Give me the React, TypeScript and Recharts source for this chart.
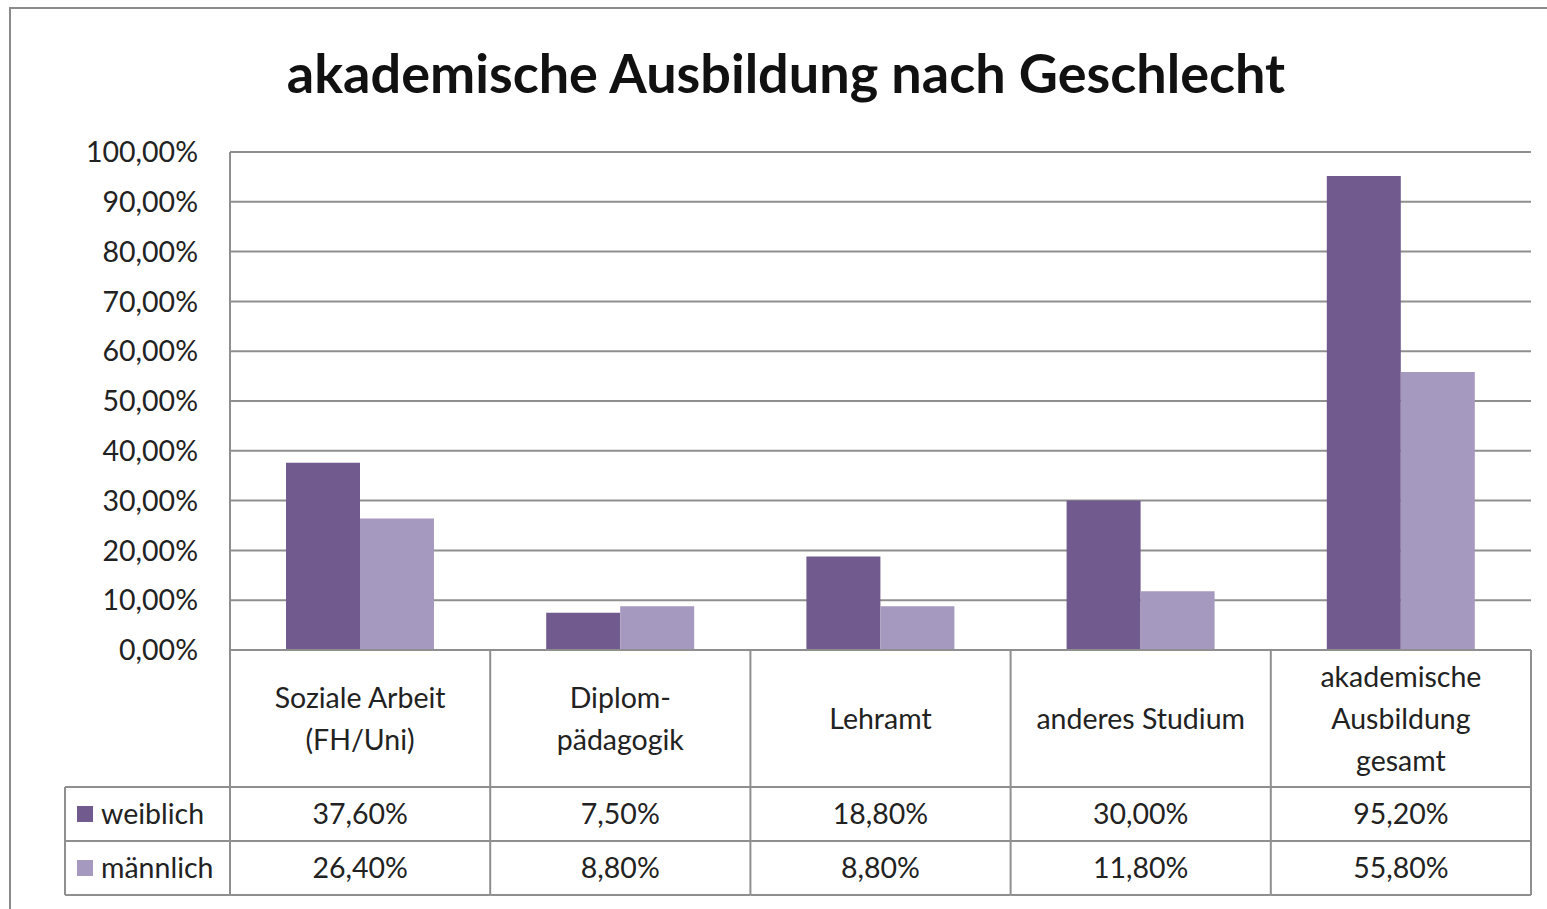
import React from "react";
import { BarChart, Bar, XAxis, YAxis, CartesianGrid } from "recharts";

const title = "akademische Ausbildung nach Geschlecht";
const categories = [
  "Soziale Arbeit\n(FH/Uni)",
  "Diplom-\npädagogik",
  "Lehramt",
  "anderes Studium",
  "akademische\nAusbildung\ngesamt",
];
const weiblich = [37.6, 7.5, 18.8, 30.0, 95.2];
const maennlich = [26.4, 8.8, 8.8, 11.8, 55.8];
const yTicks = [0, 10, 20, 30, 40, 50, 60, 70, 80, 90, 100];
const seriesNames = ["weiblich", "männlich"];

const COLORS = ["#715A8D", "#A699BF"];
const LINE = "#8f8f8f";
const TEXT = "#222";
const FONT = "Lato, 'Open Sans', sans-serif";

const W = 1547;
const H = 909;
const M = { top: 152, right: 16, bottom: 14, left: 0 };
const YAXIS_W = 230;
const XAXIS_H = 245;
const PLOT_W = W - M.left - M.right - YAXIS_W;
const BAND = PLOT_W / categories.length;
const HEADER_H = 137;
const ROW_H = 54;
const LEGEND_W = 165;
const TABLE_FS = 28.5;

const data = categories.map((c, i) => ({
  name: c,
  weiblich: weiblich[i],
  maennlich: maennlich[i],
}));

const fmt = (v: number) => v.toFixed(2).replace(".", ",") + "%";

const TableTick = (props: any) => {
  const { x, y, payload, index } = props;
  const left = x - BAND / 2;
  const right = x + BAND / 2;
  const lines = String(payload.value).split("\n");
  const lh = 42;
  const headerMid = y + HEADER_H / 2;
  const firstY = headerMid - ((lines.length - 1) * lh) / 2 - 1;
  const r1 = y + HEADER_H;
  const r2 = r1 + ROW_H;
  const r3 = r2 + ROW_H;
  const lineProps = { stroke: LINE, strokeWidth: 2 };
  return (
    <g>
      <line x1={right} x2={right} y1={y} y2={r3} {...lineProps} />
      {index === 0 && <line x1={left} x2={left} y1={y} y2={r3} {...lineProps} />}
      <line x1={index === 0 ? left - LEGEND_W : left} x2={right} y1={r1} y2={r1} {...lineProps} />
      <line x1={index === 0 ? left - LEGEND_W : left} x2={right} y1={r2} y2={r2} {...lineProps} />
      <line x1={index === 0 ? left - LEGEND_W : left} x2={right} y1={r3} y2={r3} {...lineProps} />
      {index === 0 && (
        <g>
          <line x1={left - LEGEND_W} x2={left - LEGEND_W} y1={r1} y2={r3} {...lineProps} />
          {seriesNames.map((s, si) => (
            <g key={s}>
              <rect
                x={left - LEGEND_W + 12}
                y={r1 + si * ROW_H + ROW_H / 2 - 8}
                width={16}
                height={16}
                fill={COLORS[si]}
              />
              <text
                x={left - LEGEND_W + 36}
                y={r1 + si * ROW_H + ROW_H / 2 - 1}
                dominantBaseline="central"
                fontSize={TABLE_FS}
                fill={TEXT}
                fontFamily={FONT}
              >
                {s}
              </text>
            </g>
          ))}
        </g>
      )}
      <text textAnchor="middle" fontSize={TABLE_FS} fill={TEXT} fontFamily={FONT}>
        {lines.map((l, li) => (
          <tspan key={li} x={x} y={firstY + li * lh} dominantBaseline="central">
            {l}
          </tspan>
        ))}
      </text>
      <text x={x} y={r1 + ROW_H / 2 - 1} textAnchor="middle" dominantBaseline="central" fontSize={TABLE_FS} fill={TEXT} fontFamily={FONT}>
        {fmt(weiblich[index])}
      </text>
      <text x={x} y={r2 + ROW_H / 2 - 1} textAnchor="middle" dominantBaseline="central" fontSize={TABLE_FS} fill={TEXT} fontFamily={FONT}>
        {fmt(maennlich[index])}
      </text>
    </g>
  );
};

export default function App() {
  return (
    <div
      style={{
        position: "absolute",
        left: 0,
        top: 0,
        width: W,
        height: H,
        overflow: "hidden",
        background: "#fff",
        fontFamily: FONT,
      }}
    >
      <div
        style={{
          position: "absolute",
          left: 9,
          top: 7,
          width: W + 50,
          height: H + 50,
          borderLeft: "2px solid #8a8a8a",
          borderTop: "2px solid #8a8a8a",
        }}
      />
      <div
        style={{
          position: "absolute",
          left: 0,
          top: 40,
          width: 1572,
          textAlign: "center",
          fontSize: 54,
          fontWeight: 700,
          color: "#111",
          lineHeight: "66px",
        }}
      >
        {title}
      </div>
      <div style={{ position: "absolute", left: 0, top: 0 }}>
        <BarChart
          width={W}
          height={H}
          data={data}
          margin={M}
          barCategoryGap={56}
          barGap={0}
        >
          <CartesianGrid vertical={false} stroke={LINE} strokeWidth={2} />
          <XAxis
            dataKey="name"
            height={XAXIS_H}
            interval={0}
            tickLine={false}
            tickSize={0}
            tickMargin={0}
            axisLine={{ stroke: LINE, strokeWidth: 2 }}
            tick={<TableTick />}
          />
          <YAxis
            width={YAXIS_W}
            domain={[0, 100]}
            ticks={yTicks}
            tickFormatter={fmt}
            tickLine={false}
            tickSize={6}
            tickMargin={26}
            axisLine={{ stroke: LINE, strokeWidth: 2 }}
            tick={{ fontSize: 28.5, fill: TEXT, fontFamily: FONT }}
          />
          <Bar dataKey="weiblich" name={seriesNames[0]} fill={COLORS[0]} isAnimationActive={false} />
          <Bar dataKey="maennlich" name={seriesNames[1]} fill={COLORS[1]} isAnimationActive={false} />
        </BarChart>
      </div>
    </div>
  );
}
